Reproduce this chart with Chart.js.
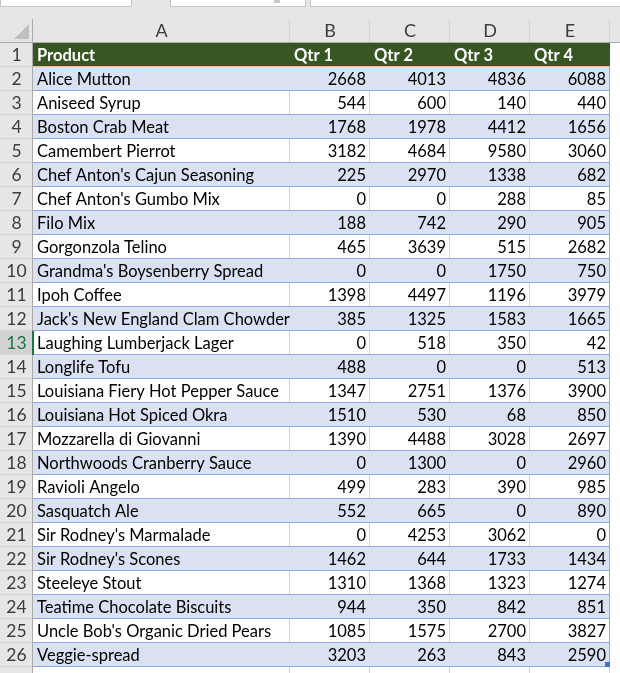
<!DOCTYPE html>
<html>
<head>
<meta charset="utf-8">
<script src="https://cdn.jsdelivr.net/npm/chart.js@4.4.1/dist/chart.umd.min.js"></script>
<style>
  html, body { margin: 0; padding: 0; background: #e6e6e6; }
  canvas { display: block; }
</style>
</head>
<body>
<canvas id="sheet" width="620" height="673"></canvas>
<script>
// sheet data
const columnLetters = ['A', 'B', 'C', 'D', 'E'];
const headers = ['Product', 'Qtr 1', 'Qtr 2', 'Qtr 3', 'Qtr 4'];
const products = [
    'Alice Mutton', 'Aniseed Syrup', 'Boston Crab Meat', 'Camembert Pierrot',
    "Chef Anton's Cajun Seasoning", "Chef Anton's Gumbo Mix", 'Filo Mix',
    'Gorgonzola Telino', "Grandma's Boysenberry Spread", 'Ipoh Coffee',
    "Jack's New England Clam Chowder", 'Laughing Lumberjack Lager', 'Longlife Tofu',
    'Louisiana Fiery Hot Pepper Sauce', 'Louisiana Hot Spiced Okra',
    'Mozzarella di Giovanni', 'Northwoods Cranberry Sauce', 'Ravioli Angelo',
    'Sasquatch Ale', "Sir Rodney's Marmalade", "Sir Rodney's Scones",
    'Steeleye Stout', 'Teatime Chocolate Biscuits', "Uncle Bob's Organic Dried Pears",
    'Veggie-spread'
];
const qtr1 = [2668, 544, 1768, 3182, 225, 0, 188, 465, 0, 1398, 385, 0, 488, 1347, 1510, 1390, 0, 499, 552, 0, 1462, 1310, 944, 1085, 3203];
const qtr2 = [4013, 600, 1978, 4684, 2970, 0, 742, 3639, 0, 4497, 1325, 518, 0, 2751, 530, 4488, 1300, 283, 665, 4253, 644, 1368, 350, 1575, 263];
const qtr3 = [4836, 140, 4412, 9580, 1338, 288, 290, 515, 1750, 1196, 1583, 350, 0, 1376, 68, 3028, 0, 390, 0, 3062, 1733, 1323, 842, 2700, 843];
const qtr4 = [6088, 440, 1656, 3060, 682, 85, 905, 2682, 750, 3979, 1665, 42, 513, 3900, 850, 2697, 2960, 985, 890, 0, 1434, 1274, 851, 3827, 2590];
const quarters = [qtr1, qtr2, qtr3, qtr4];

// layout (pixels)
const colWidths = [257, 80, 80, 80, 80];
const colEdges = colWidths.reduce((acc, w) => { acc.push(acc[acc.length - 1] + w); return acc; }, [0]);
const tableWidth = colEdges[colEdges.length - 1];
const selectedRow = 13;

const FONT = 'Lato, "Open Sans", sans-serif';
const GREEN = '#375623';
const BAND = '#d9e1f2';
const BLUE_LINE = '#8ea9db';
const GRID = '#d4d4d4';
const HEAD_BG = '#e6e6e6';
const HEAD_LINE = '#ababab';

const rowLabels = [headers[0], ...products].map((_, i) => String(i + 1));

function rowColor(i) {
    if (i === 0) return GREEN;
    return i % 2 === 1 ? BAND : '#ffffff';
}

function cellText(r, c) {
    if (r === 0) return headers[c];
    if (c === 0) return products[r - 1];
    return String(quarters[c - 1][r - 1]);
}

const sheetPlugin = {
    id: 'sheet',
    beforeDraw(chart) {
        const ctx = chart.ctx;
        ctx.save();
        ctx.fillStyle = HEAD_BG;
        ctx.fillRect(0, 0, chart.width, chart.height);
        // toolbar boxes
        ctx.fillStyle = '#ffffff';
        ctx.strokeStyle = '#c6c6c6';
        [[0, 132], [170, 306], [310, 640]].forEach(([a, b]) => {
            ctx.fillRect(a, -2, b - a, 8);
            ctx.strokeRect(a + 0.5, -2, b - a - 1, 8.5);
        });
        ctx.fillStyle = '#c8c8c8';
        ctx.fillRect(274, 0, 6, 3);
        // white cells beyond the table
        const area = chart.chartArea;
        ctx.fillStyle = '#ffffff';
        ctx.fillRect(area.left, area.top, chart.width - area.left, chart.height - area.top);
        ctx.restore();
    },
    afterDatasetsDraw(chart) {
        const ctx = chart.ctx;
        const x = chart.scales.x;
        const y = chart.scales.y;
        const rows = rowLabels.length;
        const rowH = (y.bottom - y.top) / rows;
        const px = v => Math.round(x.getPixelForValue(v));
        const rowTop = r => Math.round(y.getPixelForValue(r) - rowH / 2);
        const left = px(0);
        const right = px(tableWidth);
        const headTop = 19;
        ctx.save();

        // gridlines inside white rows and below the table
        ctx.strokeStyle = GRID;
        ctx.lineWidth = 1;
        for (let r = 1; r <= rows; r++) {
            if (r < rows && r % 2 === 1) continue;
            const t = rowTop(r);
            const b = r < rows ? rowTop(r + 1) : chart.height;
            for (let c = 1; c < colEdges.length - 1; c++) {
                ctx.beginPath();
                ctx.moveTo(px(colEdges[c]) - 0.5, t);
                ctx.lineTo(px(colEdges[c]) - 0.5, b);
                ctx.stroke();
            }
        }
        ctx.beginPath();
        ctx.moveTo(right - 0.5, rowTop(rows));
        ctx.lineTo(right - 0.5, chart.height);
        ctx.stroke();

        // table borders
        ctx.strokeStyle = '#f4b98f';
        ctx.beginPath();
        ctx.moveTo(left, rowTop(1) - 0.5);
        ctx.lineTo(right, rowTop(1) - 0.5);
        ctx.stroke();
        ctx.strokeStyle = BLUE_LINE;
        for (let r = 2; r <= rows; r++) {
            ctx.beginPath();
            ctx.moveTo(left, rowTop(r) - 0.5);
            ctx.lineTo(right, rowTop(r) - 0.5);
            ctx.stroke();
        }
        ctx.beginPath();
        ctx.moveTo(right - 0.5, rowTop(1));
        ctx.lineTo(right - 0.5, rowTop(rows));
        ctx.stroke();
        ctx.fillStyle = '#4472c4';
        ctx.fillRect(right - 5, rowTop(rows) - 5, 5, 5);

        // cell text
        ctx.textBaseline = 'alphabetic';
        for (let r = 0; r < rows; r++) {
            const base = rowTop(r) + rowH - 6;
            for (let c = 0; c < colWidths.length; c++) {
                const text = cellText(r, c);
                if (r === 0) {
                    ctx.font = 'bold 16.5px ' + FONT;
                    ctx.fillStyle = '#ffffff';
                } else {
                    ctx.font = '16.5px ' + FONT;
                    ctx.fillStyle = '#000000';
                }
                if (r > 0 && c > 0) {
                    ctx.textAlign = 'right';
                    ctx.fillText(text, px(colEdges[c + 1]) - 4, base);
                } else {
                    ctx.textAlign = 'left';
                    ctx.fillText(text, px(colEdges[c]) + 4, base);
                }
            }
        }

        // column header strip
        ctx.fillStyle = HEAD_BG;
        ctx.fillRect(0, headTop, chart.width, y.top - headTop);
        ctx.strokeStyle = GRID;
        for (let c = 1; c < colEdges.length; c++) {
            ctx.beginPath();
            ctx.moveTo(px(colEdges[c]) - 0.5, headTop);
            ctx.lineTo(px(colEdges[c]) - 0.5, y.top - 1);
            ctx.stroke();
        }
        ctx.strokeStyle = HEAD_LINE;
        ctx.beginPath();
        ctx.moveTo(0, y.top - 0.5);
        ctx.lineTo(chart.width, y.top - 0.5);
        ctx.stroke();
        ctx.font = '18px ' + FONT;
        ctx.fillStyle = '#3c3c3c';
        ctx.textAlign = 'center';
        columnLetters.forEach((letter, c) => {
            ctx.fillText(letter, (px(colEdges[c]) + px(colEdges[c + 1])) / 2, y.top - 6);
        });

        // corner triangle
        ctx.fillStyle = '#bfbfbf';
        ctx.beginPath();
        ctx.moveTo(left - 4, headTop + 5);
        ctx.lineTo(left - 4, y.top - 4);
        ctx.lineTo(left - 19, y.top - 4);
        ctx.closePath();
        ctx.fill();

        // row header column
        ctx.fillStyle = HEAD_BG;
        ctx.fillRect(0, y.top, left, chart.height - y.top);
        ctx.strokeStyle = GRID;
        for (let r = 1; r <= rows; r++) {
            ctx.beginPath();
            ctx.moveTo(0, rowTop(r) - 0.5);
            ctx.lineTo(left - 1, rowTop(r) - 0.5);
            ctx.stroke();
        }
        const sel = selectedRow - 1;
        ctx.fillStyle = '#d2d2d2';
        ctx.fillRect(0, rowTop(sel), left - 1, rowH - 1);
        ctx.strokeStyle = HEAD_LINE;
        ctx.beginPath();
        ctx.moveTo(left - 0.5, headTop);
        ctx.lineTo(left - 0.5, chart.height);
        ctx.stroke();
        ctx.fillStyle = '#217346';
        ctx.fillRect(left - 1, rowTop(sel), 2, rowH);
        ctx.font = '17.5px ' + FONT;
        ctx.textAlign = 'center';
        rowLabels.forEach((label, r) => {
            ctx.fillStyle = r === sel ? '#217346' : '#3c3c3c';
            ctx.fillText(label, left / 2, rowTop(r) + rowH - 6);
        });
        ctx.restore();
    }
};

new Chart(document.getElementById('sheet'), {
    type: 'bar',
    data: {
        labels: rowLabels,
        datasets: [{
            label: 'rows',
            data: rowLabels.map(() => [0, tableWidth]),
            backgroundColor: rowLabels.map((_, i) => rowColor(i)),
            borderWidth: 0,
            barPercentage: 1,
            categoryPercentage: 1
        }]
    },
    options: {
        indexAxis: 'y',
        responsive: false,
        animation: false,
        devicePixelRatio: 1,
        layout: { padding: { top: 43, left: 33, right: 10, bottom: 6 } },
        plugins: { legend: { display: false }, tooltip: { enabled: false } },
        scales: {
            x: { type: 'linear', min: 0, max: tableWidth, display: false },
            y: { type: 'category', display: false, offset: true }
        }
    },
    plugins: [sheetPlugin]
});
</script>
</body>
</html>
